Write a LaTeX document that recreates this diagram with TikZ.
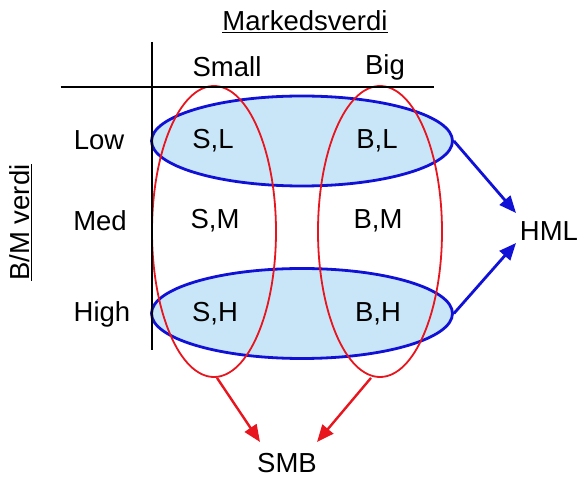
\documentclass[tikz,border=0pt]{standalone}
\usepackage{fontspec}
\setmainfont{Liberation Sans}
\usetikzlibrary{arrows.meta,shapes.geometric,calc}
\definecolor{myblue}{RGB}{16,16,214}
\definecolor{myfill}{RGB}{200,230,248}
\definecolor{myred}{RGB}{232,20,30}
\begin{document}
\begin{tikzpicture}[x=1pt,y=-1pt,
  lbl/.style={font=\fontsize{27.5}{27.5}\selectfont, inner sep=0pt},
  rowell/.style={ellipse, draw=myblue, fill=myfill, line width=2.8pt, inner sep=0pt, minimum width=301pt, minimum height=90pt},
  colell/.style={ellipse, draw=myred, line width=1.8pt, inner sep=0pt, minimum width=124pt, minimum height=291pt},
  bluearrow/.style={draw=myblue, line width=2.8pt, -{Triangle[length=17pt,width=14pt]}},
  redarrow/.style={draw=myred, line width=2.4pt, -{Triangle[length=17pt,width=14pt]}},
  axis/.style={draw=black, line width=2pt}]
\useasboundingbox (0,0) rectangle (582,478);
% row ellipses
\node[rowell] (lowell) at (302,141) {};
\node[rowell] (highell) at (302,313.5) {};
% column ellipses
\node[colell] (smallell) at (214,231.5) {};
\node[colell] (bigell) at (380,231.5) {};
% axes
\coordinate (vtop) at (151.5,42);
\coordinate (vbot) at (151.5,350);
\coordinate (hleft) at (60.5,87.3);
\coordinate (hright) at (433.5,87.3);
\draw[axis] (vtop) -- (vbot);
\draw[axis] (hleft) -- (hright);
% titles
\node[lbl] (mv) at (305,22) {\underline{Markedsverdi}};
\node[lbl, rotate=90] (bm) at (21,222.5) {\underline{B/M verdi}};
\node[lbl] (small) at (227,67) {Small};
\node[lbl] (big) at (385,67) {Big};
\node[lbl] (low) at (99,140) {Low};
\node[lbl] (med) at (100,221) {Med};
\node[lbl] (high) at (102,314) {High};
% cells
\node[lbl] (sl) at (213,141) {S,L};
\node[lbl] (bl) at (377,141) {B,L};
\node[lbl] (sm) at (215,221) {S,M};
\node[lbl] (bmc) at (378,221) {B,M};
\node[lbl] (sh) at (215,314) {S,H};
\node[lbl] (bh) at (378,314) {B,H};
% outputs
\node[lbl] (hml) at (549,231) {HML};
\node[lbl] (smb) at (287,463.5) {SMB};
\coordinate (hmltop) at (516,213);
\coordinate (hmlbot) at (516,243);
\coordinate (smbl) at (260,442);
\coordinate (smbr) at (317,442);
\draw[bluearrow] (lowell.east) -- (hmltop);
\draw[bluearrow] (highell.east) -- (hmlbot);
\draw[redarrow] ($(smallell.south)+(3,0)$) -- (smbl);
\draw[redarrow] ($(bigell.south)+(-9,0)$) -- (smbr);
\end{tikzpicture}
\end{document}
